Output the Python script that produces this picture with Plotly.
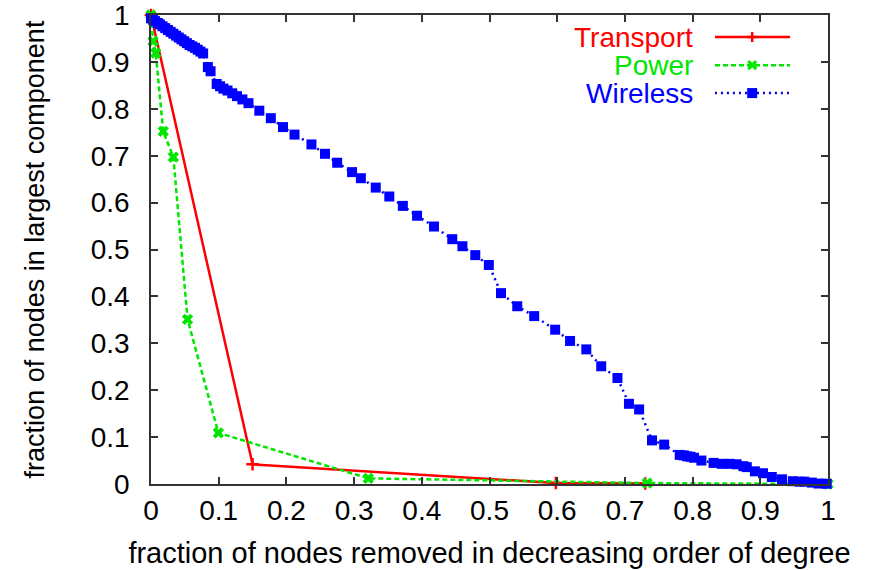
import plotly.graph_objects as go

# ---- data ----
transport_x = [0.0, 0.150, 0.598, 0.730]
transport_y = [1.0, 0.042, 0.002, 0.001]

power_x = [0.0, 0.003, 0.007, 0.018, 0.033, 0.054, 0.0995, 0.321, 0.733, 1.0]
power_y = [1.0, 0.944, 0.919, 0.752, 0.697, 0.351, 0.109, 0.012, 0.002, 0.0]

wireless_x = [0.000, 0.003, 0.006, 0.010, 0.013, 0.017, 0.021, 0.025, 0.029, 0.033,
              0.037, 0.041, 0.045, 0.049, 0.053, 0.057, 0.061, 0.065, 0.069, 0.073,
              0.077, 0.084, 0.088, 0.097, 0.102, 0.107, 0.113, 0.120, 0.127, 0.135,
              0.144, 0.160, 0.177, 0.195, 0.212, 0.237, 0.257, 0.275, 0.297, 0.310,
              0.332, 0.352, 0.372, 0.393, 0.418, 0.445, 0.460, 0.479, 0.499, 0.517,
              0.541, 0.566, 0.597, 0.619, 0.643, 0.665, 0.689, 0.706, 0.721, 0.740,
              0.758, 0.781, 0.787, 0.792, 0.797, 0.802, 0.813, 0.831, 0.843, 0.855,
              0.865, 0.875, 0.880, 0.892, 0.904, 0.917, 0.932, 0.948, 0.958, 0.965,
              0.976, 0.986, 0.998]
wireless_y = [0.993, 0.990, 0.987, 0.983, 0.980, 0.976, 0.972, 0.968, 0.964, 0.960,
              0.956, 0.952, 0.948, 0.944, 0.940, 0.936, 0.933, 0.930, 0.926, 0.922,
              0.918, 0.889, 0.880, 0.853, 0.848, 0.843, 0.839, 0.833, 0.827, 0.820,
              0.812, 0.796, 0.780, 0.761, 0.745, 0.724, 0.704, 0.685, 0.665, 0.652,
              0.632, 0.613, 0.593, 0.572, 0.549, 0.522, 0.507, 0.488, 0.467, 0.407,
              0.379, 0.358, 0.329, 0.305, 0.287, 0.251, 0.226, 0.171, 0.159, 0.093,
              0.084, 0.062, 0.061, 0.059, 0.058, 0.056, 0.050, 0.045, 0.043, 0.043,
              0.042, 0.038, 0.036, 0.027, 0.023, 0.015, 0.010, 0.006, 0.005, 0.005,
              0.003, 0.001, 0.0005]

series_names = ["Transport", "Power", "Wireless"]
series_colors = ["#ff0000", "#00e600", "#0000ff"]

tick_vals = [0, 0.1, 0.2, 0.3, 0.4, 0.5, 0.6, 0.7, 0.8, 0.9, 1]
tick_text = ["0", "0.1", "0.2", "0.3", "0.4", "0.5", "0.6", "0.7", "0.8", "0.9", "1"]

FONT = "Liberation Sans, Arial, sans-serif"
FS = 28

RED, GREEN, BLUE = series_colors
POWER_DASH = "5px,3px"
WIRELESS_DASH = "2px,4px"

fig = go.Figure()
fig.add_trace(go.Scatter(
    x=transport_x, y=transport_y, name=series_names[0], mode="lines+markers",
    line=dict(color=RED, width=2.5),
    marker=dict(symbol="cross-thin", size=9, line=dict(color=RED, width=2.5)),
    cliponaxis=False))
fig.add_trace(go.Scatter(
    x=power_x, y=power_y, name=series_names[1], mode="lines+markers",
    line=dict(color=GREEN, width=2.5, dash=POWER_DASH),
    marker=dict(symbol="x", size=10, color=GREEN),
    cliponaxis=False))
fig.add_trace(go.Scatter(
    x=wireless_x, y=wireless_y, name=series_names[2], mode="lines+markers",
    line=dict(color=BLUE, width=2.5, dash=WIRELESS_DASH),
    marker=dict(symbol="square", size=10, color=BLUE),
    cliponaxis=False))

# ---- gnuplot-style key: label text (right aligned), then line sample ----
key_text_x = 0.8035
key_line_x0, key_line_x1 = 0.833, 0.944
key_mark_x = 0.888
key_rows = [0.953, 0.893, 0.8335]
key_dash = ["solid", POWER_DASH, WIRELESS_DASH]

annotations = []
shapes = []
for name, color, yrow, dash in zip(series_names, series_colors, key_rows, key_dash):
    annotations.append(dict(
        x=key_text_x, y=yrow, xref="paper", yref="paper", xanchor="right", yanchor="middle",
        text=name, showarrow=False, font=dict(family=FONT, size=FS, color=color)))
    shapes.append(dict(type="line", xref="paper", yref="paper",
                       x0=key_line_x0, x1=key_line_x1, y0=yrow, y1=yrow,
                       line=dict(color=color, width=2.5, dash=dash)))
# key markers (pixel-sized, anchored on the sample line)
px = dict(xref="paper", yref="paper", xsizemode="pixel", ysizemode="pixel", xanchor=key_mark_x)
shapes.append(dict(type="line", yanchor=key_rows[0], x0=-5, x1=5, y0=0, y1=0,
                   line=dict(color=RED, width=2.5), **px))
shapes.append(dict(type="line", yanchor=key_rows[0], x0=0, x1=0, y0=-5, y1=5,
                   line=dict(color=RED, width=2.5), **px))
shapes.append(dict(type="line", yanchor=key_rows[1], x0=-4, x1=4, y0=-4, y1=4,
                   line=dict(color=GREEN, width=3), **px))
shapes.append(dict(type="line", yanchor=key_rows[1], x0=-4, x1=4, y0=4, y1=-4,
                   line=dict(color=GREEN, width=3), **px))
shapes.append(dict(type="rect", yanchor=key_rows[2], x0=-5, x1=5, y0=-5, y1=5,
                   fillcolor=BLUE, line=dict(color=BLUE, width=0), **px))

axis_common = dict(
    range=[0, 1], tickvals=tick_vals, ticktext=tick_text, automargin=False,
    ticklabeloverflow="allow",
    showgrid=False, zeroline=False, showline=True, linecolor="#333333", linewidth=1.5,
    mirror="allticks", ticks="inside", ticklen=7, tickcolor="#333333", tickwidth=1.5,
    tickfont=dict(family=FONT, size=FS, color="black"),
)

fig.update_layout(
    width=873, height=570,
    margin=dict(l=151, r=45, t=15, b=86),
    paper_bgcolor="white", plot_bgcolor="white",
    font=dict(family=FONT, size=FS, color="black"),
    xaxis=dict(axis_common, title=dict(text="fraction of nodes removed in decreasing order of degree",
                                       font=dict(family=FONT, size=29), standoff=17),
               ticklabelstandoff=1),
    yaxis=dict(axis_common, title=dict(text="fraction of nodes in largest component",
                                       font=dict(family=FONT, size=27), standoff=38),
               ticklabelstandoff=14),
    showlegend=False,
    annotations=annotations,
    shapes=shapes,
)

fig.write_html("out.html", config={"displayModeBar": False},
               post_script="document.body.style.margin='0';")
